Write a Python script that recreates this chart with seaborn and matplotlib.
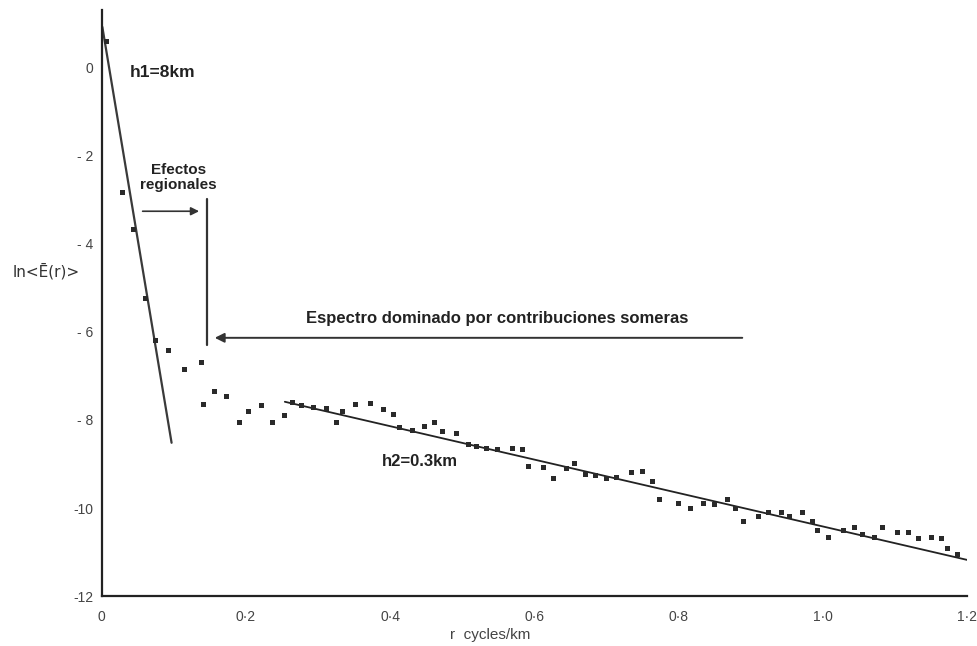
import numpy as np
import pandas as pd
import matplotlib
matplotlib.use("Agg")
import matplotlib.pyplot as plt
import seaborn as sns

# ---- data ----
r_vals = [0.007, 0.029, 0.044, 0.061, 0.075, 0.093, 0.115, 0.139, 0.141, 0.157,
          0.173, 0.191, 0.204, 0.222, 0.237, 0.254, 0.264, 0.277, 0.294, 0.312,
          0.326, 0.334, 0.352, 0.373, 0.391, 0.405, 0.413, 0.431, 0.447, 0.462,
          0.472, 0.492, 0.508, 0.520, 0.534, 0.549, 0.569, 0.583, 0.592, 0.613,
          0.626, 0.644, 0.656, 0.671, 0.685, 0.700, 0.714, 0.734, 0.750, 0.764,
          0.773, 0.800, 0.816, 0.834, 0.850, 0.867, 0.879, 0.890, 0.910, 0.925,
          0.942, 0.954, 0.971, 0.985, 0.993, 1.008, 1.028, 1.044, 1.055, 1.071,
          1.083, 1.103, 1.119, 1.133, 1.150, 1.164, 1.173, 1.187]
lnE_vals = [0.57, -2.84, -3.68, -5.25, -6.20, -6.43, -6.86, -6.70, -7.66, -7.36,
            -7.48, -8.05, -7.82, -7.68, -8.05, -7.91, -7.61, -7.68, -7.73, -7.75,
            -8.05, -7.80, -7.66, -7.64, -7.77, -7.89, -8.18, -8.25, -8.16, -8.07,
            -8.27, -8.30, -8.55, -8.61, -8.66, -8.68, -8.66, -8.68, -9.05, -9.09,
            -9.34, -9.11, -9.00, -9.25, -9.27, -9.34, -9.30, -9.20, -9.18, -9.39,
            -9.80, -9.89, -10.00, -9.89, -9.91, -9.80, -10.02, -10.30, -10.20, -10.11,
            -10.09, -10.20, -10.11, -10.30, -10.52, -10.66, -10.50, -10.45, -10.61, -10.66,
            -10.45, -10.55, -10.55, -10.70, -10.66, -10.68, -10.91, -11.05]

h1_x = [0.001, 0.097]
h1_y = [0.91, -8.52]
h2_x = [0.254, 1.201]
h2_y = [-7.59, -11.18]

x_ticks = [0.0, 0.2, 0.4, 0.6, 0.8, 1.0, 1.2]
x_tick_labels = ["0", "0·2", "0·4", "0·6", "0·8", "1·0", "1·2"]
y_ticks = [0, -2, -4, -6, -8, -10, -12]
y_tick_labels = ["0", "- 2", "- 4", "- 6", "- 8", "-10", "-12"]

sns.set_style("white")
plt.rcParams['font.family'] = ['Liberation Sans', 'DejaVu Sans']

fig = plt.figure(figsize=(9.77, 6.46), dpi=100)
ax = fig.add_axes([0.104, 0.077, 0.886, 0.908])

pts = pd.DataFrame({"r": r_vals, "lnE": lnE_vals})
sns.scatterplot(data=pts, x="r", y="lnE", ax=ax, marker="s", s=13,
                color="#2a2a2a", edgecolor="none", zorder=3)
sns.lineplot(x=h1_x, y=h1_y, ax=ax, color="#3a3a3a", lw=1.6)
sns.lineplot(x=h2_x, y=h2_y, ax=ax, color="#222222", lw=1.3)

ax.set_xlim(0, 1.2)
ax.set_ylim(-12, 1.3)
ax.set_xticks(x_ticks)
ax.set_xticklabels(x_tick_labels)
ax.set_yticks(y_ticks)
ax.set_yticklabels(y_tick_labels)
ax.tick_params(direction="in", length=5, width=1, colors="#333333",
               labelsize=10, labelcolor="#444444")
ax.tick_params(axis="x", pad=10)
ax.tick_params(axis="y", pad=6)
for s in ["top", "right"]:
    ax.spines[s].set_visible(False)
for s in ["left", "bottom"]:
    ax.spines[s].set_color("#222222")
    ax.spines[s].set_linewidth(1.6)

ax.set_xlabel("r  cycles/km", fontsize=11, color="#444444")
ax.xaxis.set_label_coords(0.449, -0.054)
ax.set_ylabel("")
fig.text(0.047, 0.58, "ln<Ē(r)>", fontsize=11, color="#333333",
         ha="center", va="center", family=["DejaVu Sans"])

# vertical separator line
ax.plot([0.146, 0.146], [-3.0, -6.3], color="#333333", lw=1.6)

# arrows
ax.annotate("", xy=(0.139, -3.27), xytext=(0.053, -3.27),
            arrowprops=dict(arrowstyle="-|>", color="#333333", lw=1.2,
                            mutation_scale=12))
ax.annotate("", xy=(0.153, -6.14), xytext=(0.892, -6.14),
            arrowprops=dict(arrowstyle="-|>", color="#333333", lw=1.4,
                            mutation_scale=14))

# annotations
ax.text(0.039, -0.12, "h1=8km", fontsize=12.5, fontweight="bold",
        color="#222222", ha="left", va="center")
ax.text(0.107, -2.5, "Efectos\nregionales", fontsize=11, fontweight="bold",
        color="#222222", ha="center", va="center", linespacing=1.1)
ax.text(0.549, -5.7, "Espectro dominado por contribuciones someras",
        fontsize=12, fontweight="bold", color="#222222",
        ha="center", va="center")
ax.text(0.441, -8.95, "h2=0.3km", fontsize=12, fontweight="bold",
        color="#222222", ha="center", va="center")

fig.savefig("out.png", dpi=100, facecolor="white")
